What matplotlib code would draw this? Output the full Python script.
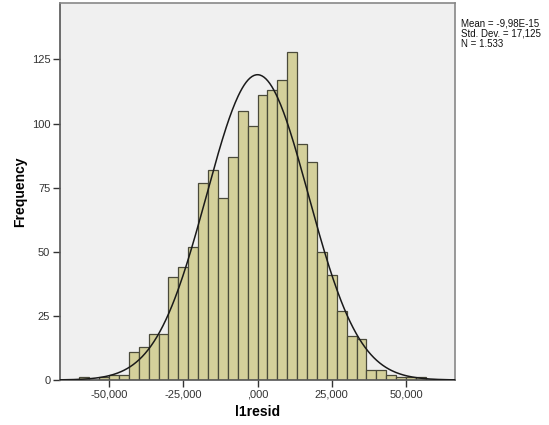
import matplotlib
matplotlib.use("Agg")
import matplotlib.pyplot as plt
import numpy as np

# bin width and counts (bin k spans [k*w, (k+1)*w])
BIN_WIDTH = 10 / 3
BIN_START = -18
COUNTS = [1, 0, 1, 2, 2,
          11, 13, 18, 18, 40, 44, 52, 77, 82, 71, 87, 105, 99,
          111, 113, 117, 128, 92, 85, 50, 41, 27, 17, 16, 4, 4, 2, 1, 1, 1]

MEAN = -9.98e-15
STD = 17.125
N = 1533

X_TICKS = [-50, -25, 0, 25, 50]
X_TICK_LABELS = ["-50,000", "-25,000", ",000", "25,000", "50,000"]
Y_TICKS = [0, 25, 50, 75, 100, 125]

plt.rcParams["font.family"] = ["Liberation Sans", "DejaVu Sans"]

fig = plt.figure(figsize=(5.49, 4.25), dpi=100)
ax = fig.add_axes([0.1093, 0.1059, 0.7195, 0.887])
ax.set_facecolor("#F0F0F0")

lefts = (BIN_START + np.arange(len(COUNTS))) * BIN_WIDTH
ax.bar(lefts, COUNTS, width=BIN_WIDTH, align="edge",
       color="#D4D09B", edgecolor="#4A4A3A", linewidth=0.9, zorder=2)

# normal curve scaled to counts
xs = np.linspace(-66.5, 66.5, 400)
ys = N * BIN_WIDTH / (STD * np.sqrt(2 * np.pi)) * np.exp(-0.5 * ((xs - MEAN) / STD) ** 2)
ax.plot(xs, ys, color="#1A1A1A", linewidth=1.1, zorder=3)

ax.set_xlim(-66.5, 66.5)
ax.set_ylim(0, 147)
ax.set_xticks(X_TICKS)
ax.set_xticklabels(X_TICK_LABELS)
ax.set_yticks(Y_TICKS)
ax.tick_params(axis="both", labelsize=8, length=5, width=1.0,
               color="#333333", labelcolor="#333333", pad=2)

for sp in ax.spines.values():
    sp.set_color("#888888")
    sp.set_linewidth(1.2)
ax.spines["left"].set_color("#555555")
ax.spines["bottom"].set_color("#555555")

ax.set_xlabel("l1resid", fontsize=10, fontweight="bold", labelpad=4)
ax.set_ylabel("Frequency", fontsize=10, fontweight="bold", labelpad=3)

fig.text(0.840, 0.957, f"Mean = -9,98E-15\nStd. Dev. = 17,125\nN = 1.533",
         fontsize=7, va="top", ha="left", linespacing=1.05, color="#111111")

fig.savefig("out.png", dpi=100)
